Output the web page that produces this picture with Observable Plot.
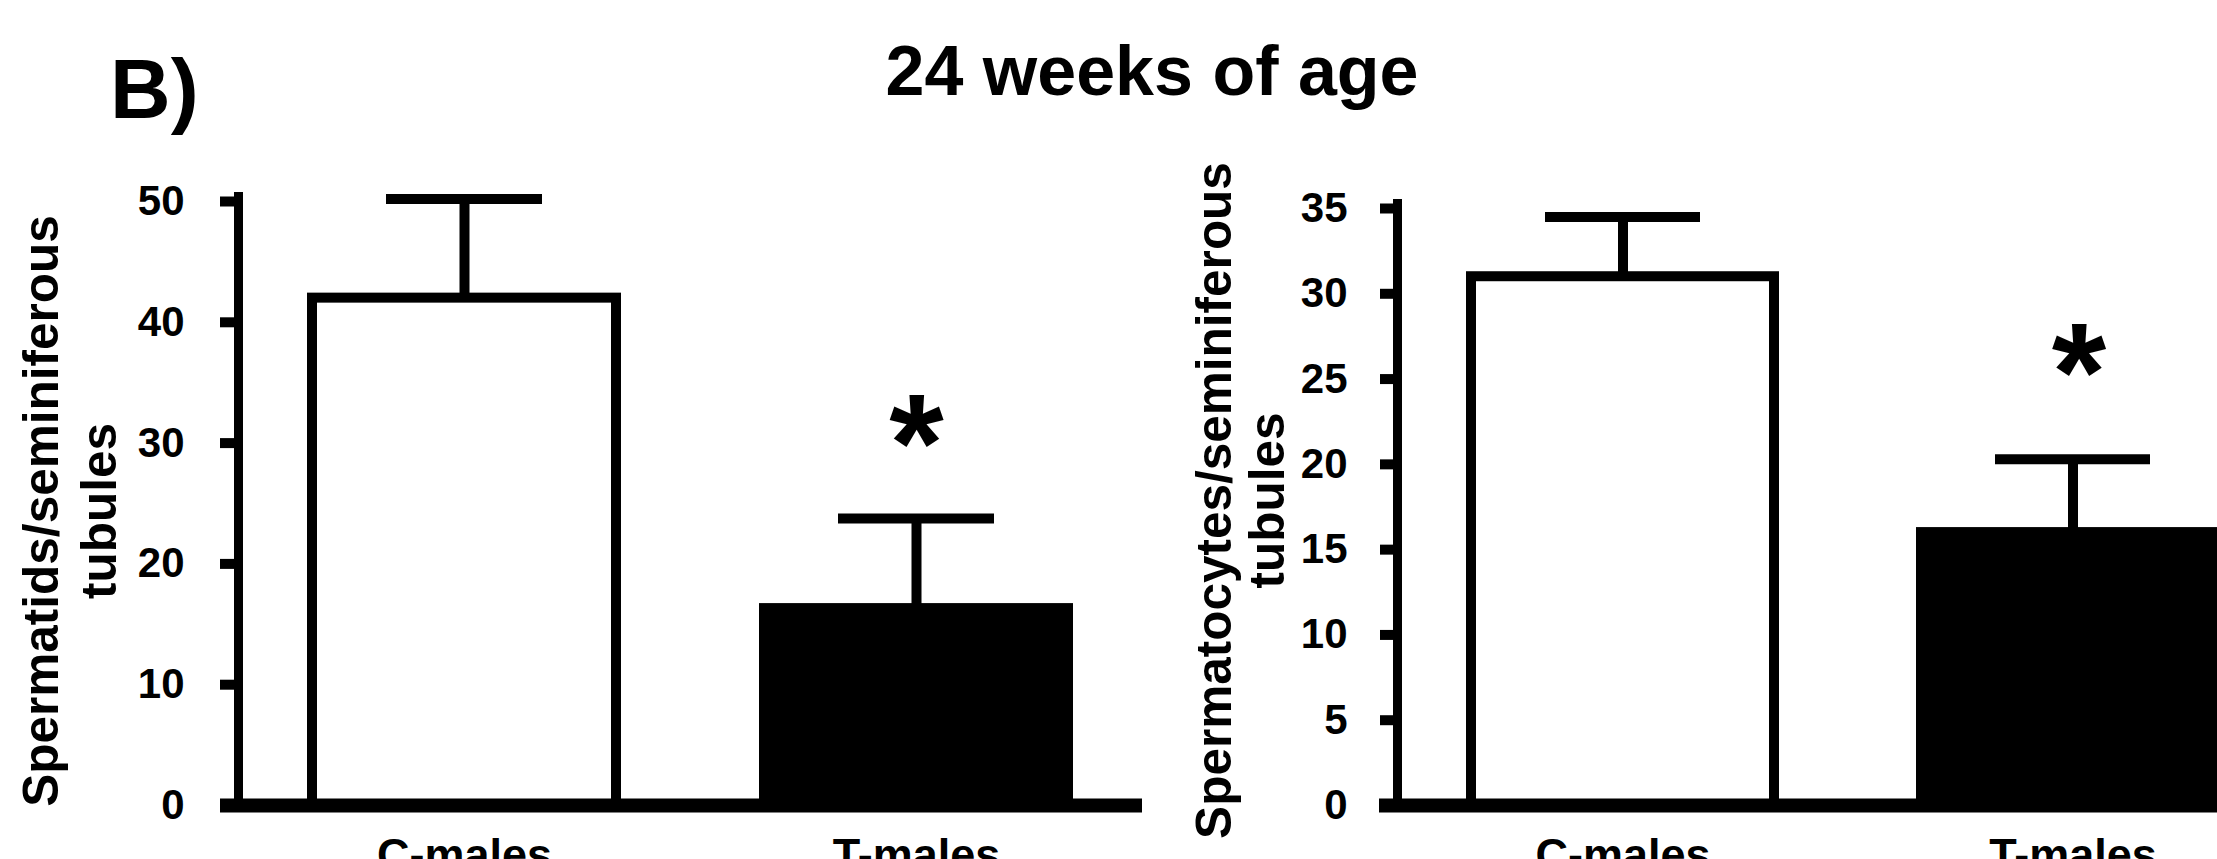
<!DOCTYPE html>
<html>
<head>
<meta charset="utf-8">
<script src="https://cdn.jsdelivr.net/npm/d3@7"></script>
<script src="https://cdn.jsdelivr.net/npm/@observablehq/plot@0.6"></script>
<style>
  html, body { margin: 0; padding: 0; background: #fff; overflow: hidden; width: 2217px; height: 859px; }
  #wrap { position: relative; width: 2217px; height: 859px; font-family: "Liberation Sans", Arial, sans-serif; color: #000; }
  #panelLetter { position: absolute; left: 110px; top: 47px; font-size: 84px; font-weight: bold; line-height: 1; white-space: nowrap; }
  #title { position: absolute; left: 1152px; top: 36px; transform: translateX(-50%); font-size: 70px; font-weight: bold; line-height: 1; white-space: nowrap; }
  #charts { position: absolute; left: 0; top: 140px; width: 2217px; height: 719px; }
  #charts svg { position: absolute; left: 0; top: 0; max-width: none; background: transparent; }
</style>
</head>
<body>
<div id="wrap">
  <div id="panelLetter">B)</div>
  <div id="title">24 weeks of age</div>
  <div id="charts"></div>
</div>
<script>
// ---- data ----
const groups = ["C-males", "T-males"];
const spermatidsMean = [42.0, 16.3];
const spermatidsErr = [8.2, 7.45];
const spermatocytesMean = [31.0, 16.0];
const spermatocytesErr = [3.5, 4.3];
const significance = ["", "*"];
const spermatidsTicks = [0, 10, 20, 30, 40, 50];
const spermatocytesTicks = [0, 5, 10, 15, 20, 25, 30, 35];
const spermatidsLabel = "Spermatids/seminiferous\ntubules";
const spermatocytesLabel = "Spermatocytes/seminiferous\ntubules";

const FONT = "'Liberation Sans', Arial, sans-serif";
const W = 2217, H = 719, ZERO = 665;

function panel(o) {
  const rows = groups.map((g, i) => ({group: g, mean: o.means[i], err: o.errs[i], top: o.means[i] + o.errs[i], sig: significance[i]}));
  return Plot.plot({
    width: W, height: H,
    marginLeft: o.axisX, marginRight: W - Math.min(o.xEnd, W), marginTop: o.marginTop, marginBottom: H - ZERO,
    style: {fontFamily: FONT, background: "transparent", color: "black"},
    x: {type: "band", domain: groups, range: [o.axisX, o.xEnd], paddingInner: 0.327, paddingOuter: 0.1635},
    y: {domain: [0, o.yMax], range: [ZERO, o.yTop]},
    color: {domain: groups, range: ["white", "black"]},
    marks: [
      Plot.barY(rows, {x: "group", y: "mean", fill: "group", stroke: "black", strokeWidth: 10}),
      Plot.ruleX(rows, {x: "group", y1: "mean", y2: "top", stroke: "black", strokeWidth: 10}),
      Plot.tickY(rows, {x: "group", y: "top", stroke: "black", strokeWidth: 10, insetLeft: 74, insetRight: 74}),
      Plot.text(rows.filter(d => d.sig), {x: "group", y: "top", text: "sig", fontSize: 140, fontWeight: "bold", dy: o.starDy, dx: o.starDx, lineAnchor: "middle", fill: "black"}),
      Plot.frame({anchor: "left", stroke: "black", strokeWidth: 9}),
      Plot.ruleY([0], {stroke: "black", strokeWidth: 14, insetLeft: -18}),
      Plot.axisY(o.ticks, {tickSize: o.tickSize, tickPadding: o.tickPadding, stroke: "black", strokeWidth: 10, fontSize: 42, fontWeight: "bold", fill: "black", label: null}),
      Plot.axisX({tickSize: 0, tickPadding: 33, fontSize: 45, fontWeight: "bold", fill: "black", label: null}),
      Plot.text([o.label], {text: d => d, frameAnchor: "left", rotate: -90, dx: o.labelX - o.axisX, dy: o.labelDy, fontSize: 49.5, fontWeight: "bold", lineHeight: o.lineHeight, textAnchor: "middle", lineAnchor: "middle", fill: "black"})
    ]
  });
}

const charts = document.getElementById("charts");
charts.appendChild(panel({
  means: spermatidsMean, errs: spermatidsErr, ticks: spermatidsTicks, yMax: 50, yTop: 61,
  axisX: 238, xEnd: 1142, marginTop: 56, tickSize: 18, tickPadding: 36,
  label: spermatidsLabel, labelX: 68, labelDy: 10, lineHeight: 1.17, starDy: -72, starDx: 0
}));
charts.appendChild(panel({
  means: spermatocytesMean, errs: spermatocytesErr, ticks: spermatocytesTicks, yMax: 35, yTop: 68,
  axisX: 1397, xEnd: 2297, marginTop: 63, tickSize: 17, tickPadding: 33,
  label: spermatocytesLabel, labelX: 1240, labelDy: -4, lineHeight: 1.07, starDy: -84, starDx: 6
}));
</script>
</body>
</html>
